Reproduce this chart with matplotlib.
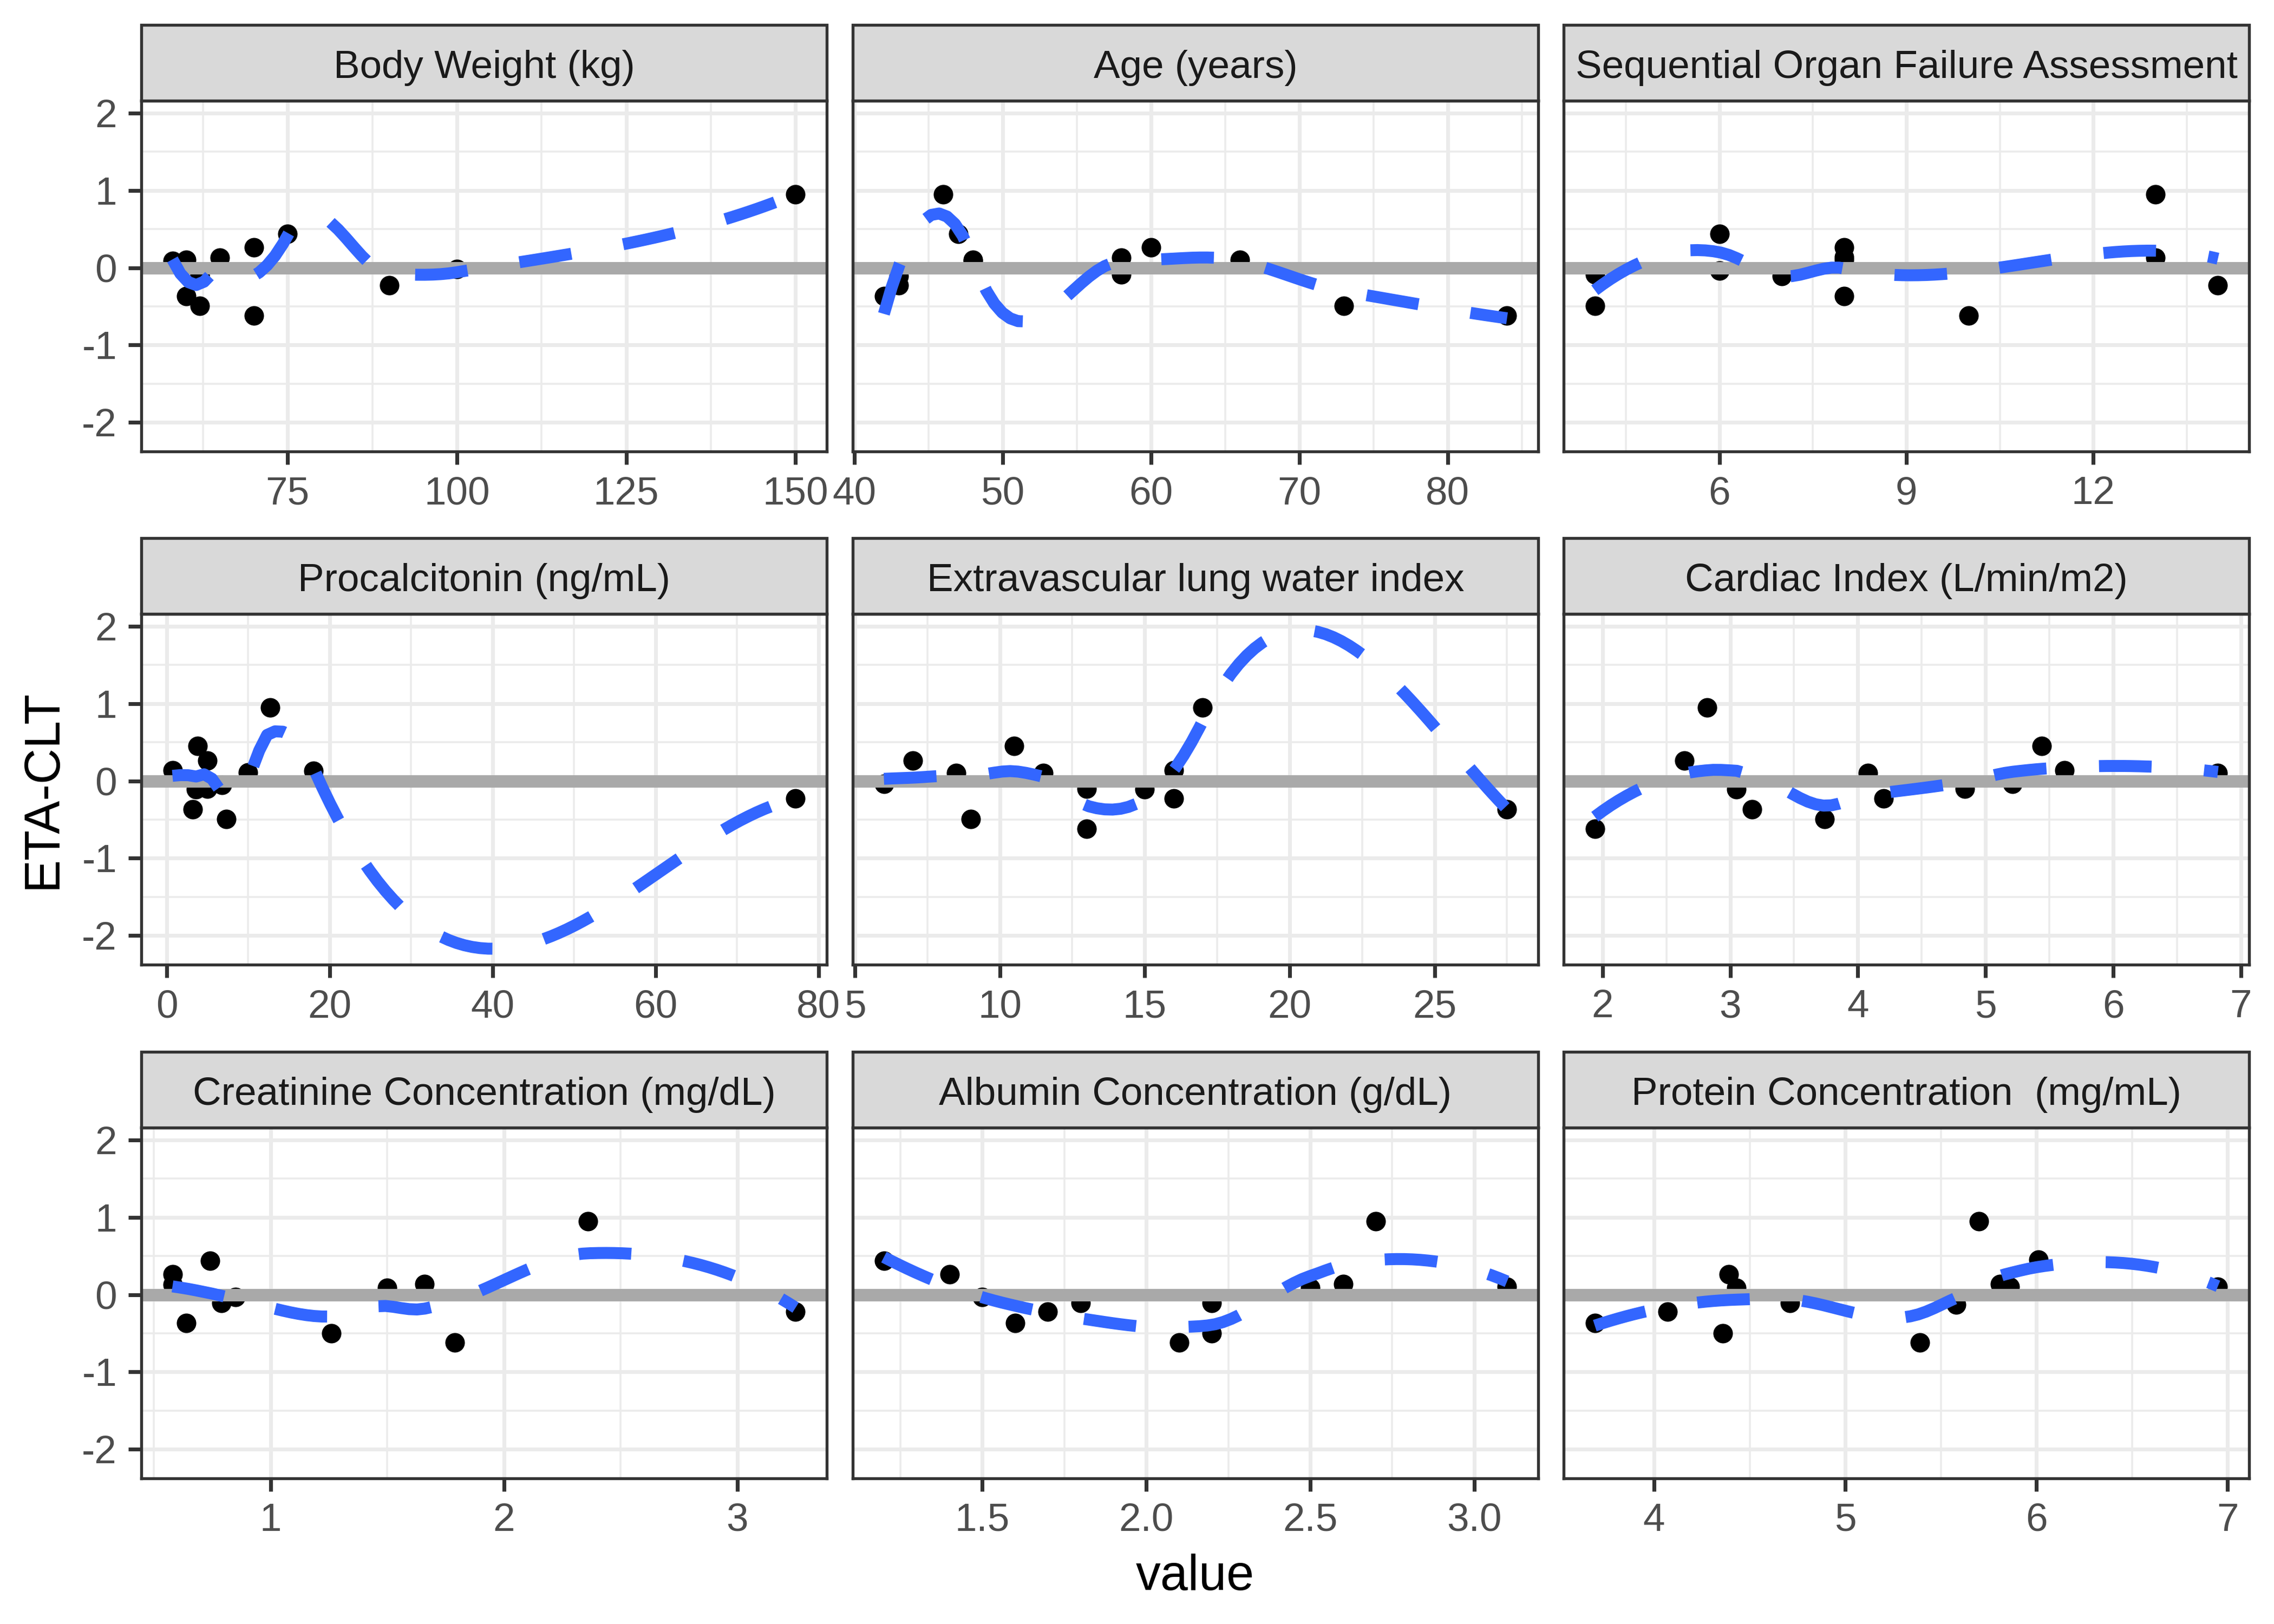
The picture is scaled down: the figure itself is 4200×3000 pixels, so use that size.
import numpy as np
import matplotlib
matplotlib.use("Agg")
import matplotlib.pyplot as plt
from matplotlib.patches import Rectangle

plt.rcParams['font.family'] = ['Liberation Sans', 'DejaVu Sans']
plt.rcParams['axes.unicode_minus'] = False

# ---------------- data ----------------
panel_titles = ["Body Weight (kg)", "Age (years)", "Sequential Organ Failure Assessment",
                "Procalcitonin (ng/mL)", "Extravascular lung water index", "Cardiac Index (L/min/m2)",
                "Creatinine Concentration (mg/dL)", "Albumin Concentration (g/dL)",
                "Protein Concentration  (mg/mL)"]

bw_x = [58, 60, 62, 62, 60, 62, 65, 70, 70, 75, 90, 100, 150]
bw_eta = [0.09, 0.10, -0.09, -0.11, -0.37, -0.49, 0.13, 0.26, -0.62, 0.44, -0.23, -0.02, 0.95]

age_x = [42, 43, 43, 46, 47, 48, 48, 58, 58, 60, 66, 73, 84]
age_eta = [-0.37, -0.23, -0.11, 0.95, 0.44, 0.09, 0.10, 0.13, -0.09, 0.26, 0.10, -0.49, -0.62]

sofa_x = [4, 4, 6, 6, 7, 8, 8, 8, 8, 10, 13, 13, 14]
sofa_eta = [-0.09, -0.49, 0.44, -0.04, -0.11, 0.26, 0.14, 0.10, -0.37, -0.62, 0.95, 0.13, -0.23]

pct_x = [0.7, 3.8, 5.0, 3.6, 5.0, 3.2, 6.8, 7.3, 10.0, 12.7, 18.0, 77.2]
pct_eta = [0.14, 0.45, 0.26, -0.11, -0.10, -0.37, -0.05, -0.49, 0.11, 0.95, 0.13, -0.23]

evlwi_x = [6.0, 7.0, 8.5, 9.0, 10.5, 11.5, 13.0, 13.0, 15.0, 16.0, 16.0, 17.0, 27.5]
evlwi_eta = [-0.04, 0.26, 0.10, -0.49, 0.45, 0.10, -0.10, -0.62, -0.11, 0.14, -0.23, 0.95, -0.37]

ci_x = [1.94, 2.64, 2.82, 3.05, 3.17, 3.74, 4.08, 4.20, 4.84, 5.21, 5.44, 5.62, 6.82]
ci_eta = [-0.62, 0.26, 0.95, -0.11, -0.37, -0.49, 0.10, -0.23, -0.10, -0.04, 0.45, 0.14, 0.10]

creat_x = [0.58, 0.58, 0.64, 0.74, 0.79, 0.85, 1.26, 1.50, 1.66, 1.79, 2.36, 3.25]
creat_eta = [0.26, 0.13, -0.37, 0.44, -0.11, -0.03, -0.50, 0.09, 0.14, -0.62, 0.95, -0.22]

alb_x = [1.2, 1.4, 1.5, 1.6, 1.7, 1.8, 2.1, 2.2, 2.2, 2.5, 2.6, 2.7, 3.1]
alb_eta = [0.44, 0.26, -0.03, -0.37, -0.22, -0.11, -0.62, -0.11, -0.50, 0.09, 0.14, 0.95, 0.10]

prot_x = [3.69, 4.07, 4.39, 4.36, 4.43, 4.71, 5.39, 5.58, 5.70, 5.81, 5.86, 6.01, 6.95]
prot_eta = [-0.37, -0.22, 0.26, -0.50, 0.09, -0.11, -0.62, -0.13, 0.95, 0.14, 0.10, 0.45, 0.10]

bw_ticks = [75, 100, 125, 150]
age_ticks = [40, 50, 60, 70, 80]
sofa_ticks = [6, 9, 12]
pct_ticks = [0, 20, 40, 60, 80]
evlwi_ticks = [5, 10, 15, 20, 25]
ci_ticks = [2, 3, 4, 5, 6, 7]
creat_ticks = [1, 2, 3]
alb_ticks = [1.5, 2.0, 2.5, 3.0]
prot_ticks = [4, 5, 6, 7]
y_ticks = [-2, -1, 0, 1, 2]

panel_x = [bw_x, age_x, sofa_x, pct_x, evlwi_x, ci_x, creat_x, alb_x, prot_x]
panel_y = [bw_eta, age_eta, sofa_eta, pct_eta, evlwi_eta, ci_eta, creat_eta, alb_eta, prot_eta]
panel_ticks = [bw_ticks, age_ticks, sofa_ticks, pct_ticks, evlwi_ticks, ci_ticks,
               creat_ticks, alb_ticks, prot_ticks]
panel_fmt = ["{:.0f}"] * 7 + ["{:.1f}", "{:.0f}"]


# ---------------- loess (R style: degree 2, span 0.75, kd-tree interpolation) -------------
def local_fit(xs, ys, x0, span=0.75):
    n = len(xs)
    q = int(np.floor(n * span + 1e-5))
    d = np.abs(xs - x0)
    h = np.sort(d)[q - 1]
    u = d / h
    w = np.where(u < 1, (1 - u ** 3) ** 3, 0.0)
    X = np.column_stack([np.ones(n), xs - x0, (xs - x0) ** 2])
    sw = np.sqrt(w)
    coef, *_ = np.linalg.lstsq(X * sw[:, None], ys * sw, rcond=None)
    return coef[0], coef[1]


def kd_vertices(xs, span=0.75, cell=0.2):
    xsrt = np.sort(xs)
    n = len(xsrt)
    fc = int(np.floor(n * span * cell))
    lo, hi = xsrt[0], xsrt[-1]
    mu = 0.005 * max(hi - lo, 1e-10 * max(abs(lo), abs(hi)) + 1e-30)
    verts = {lo - mu, hi + mu}

    def build(l, u, vlo, vhi):
        if u - l + 1 <= fc:
            return
        m = (l + u) // 2
        off = 0
        while True:
            if (m + off) >= u or (m + off) < l:
                break
            if xsrt[m + off] == xsrt[m + off + 1]:
                off = -off
                if off >= 0:
                    off += 1
            else:
                m = m + off
                break
        s = xsrt[m]
        if s == vlo or s == vhi:
            return
        verts.add(s)
        build(l, m, vlo, s)
        build(m + 1, u, s, vhi)

    build(0, n - 1, lo - mu, hi + mu)
    return np.array(sorted(verts))


def loess_curve(x, y, npts=80):
    xs = np.asarray(x, float)
    ys = np.asarray(y, float)
    v = kd_vertices(xs)
    vals = np.array([local_fit(xs, ys, vv) for vv in v])
    grid = np.linspace(xs.min(), xs.max(), npts)
    out = []
    for z in grid:
        k = np.searchsorted(v, z) - 1
        k = min(max(k, 0), len(v) - 2)
        x0, x1 = v[k], v[k + 1]
        hh = x1 - x0
        t = (z - x0) / hh
        g0, d0 = vals[k]
        g1, d1 = vals[k + 1]
        phi0 = (1 - t) ** 2 * (1 + 2 * t)
        phi1 = t ** 2 * (3 - 2 * t)
        psi0 = t * (1 - t) ** 2
        psi1 = -t ** 2 * (1 - t)
        out.append(phi0 * g0 + phi1 * g1 + (psi0 * d0 + psi1 * d1) * hh)
    return grid, np.array(out)


curves = [loess_curve(x, y) for x, y in zip(panel_x, panel_y)]
all_y = np.concatenate([np.asarray(c[1]) for c in curves] + [np.asarray(y) for y in panel_y])
ymin, ymax = all_y.min(), all_y.max()
yr = ymax - ymin
ylim = (ymin - 0.05 * yr, ymax + 0.05 * yr)

# ---------------- figure ----------------
W, H = 4200, 3000
fig = plt.figure(figsize=(14, 10), dpi=300)

col_left = [261, 1575, 2888]
panel_w = 1266
row_top = [186, 1134, 2083]
panel_h = 648
strip_h = 140

dark = "#333333"
for i in range(9):
    r, c = divmod(i, 3)
    left = col_left[c] / W
    bottom = 1 - (row_top[r] + panel_h) / H
    ax = fig.add_axes([left, bottom, panel_w / W, panel_h / H])
    ax.set_facecolor("white")
    xs = np.asarray(panel_x[i], float)
    xr = xs.max() - xs.min()

    ticks = panel_ticks[i]
    step = ticks[1] - ticks[0]
    minors = [ticks[0] - step / 2] + [t + step / 2 for t in ticks]
    ax.set_xticks(ticks)
    ax.set_xticklabels([panel_fmt[i].format(t) for t in ticks])
    ax.set_xticks(minors, minor=True)
    ax.set_yticks(y_ticks)
    ax.set_yticks([-2.5, -1.5, -0.5, 0.5, 1.5, 2.5], minor=True)
    if c == 0:
        ax.set_yticklabels([str(t) for t in y_ticks])
    else:
        ax.set_yticklabels([])
    ax.set_xlim(xs.min() - 0.05 * xr, xs.max() + 0.05 * xr)
    ax.set_ylim(*ylim)

    ax.grid(which="major", color="#EBEBEB", lw=1.7, zorder=0)
    ax.grid(which="minor", color="#EBEBEB", lw=0.85, zorder=0)
    ax.set_axisbelow(True)
    ax.tick_params(axis="both", which="major", length=5.8, width=1.7, color=dark,
                   labelsize=17.5, labelcolor="#4D4D4D", pad=5)
    ax.tick_params(axis="both", which="minor", length=0)
    if c != 0:
        ax.tick_params(axis="y", which="major", length=0)
    for sp in ax.spines.values():
        sp.set_color(dark)
        sp.set_linewidth(1.3)
        sp.set_zorder(10)

    ax.scatter(panel_x[i], panel_y[i], s=75, color="black", linewidths=0, zorder=3)
    ax.axhline(0, color="#A9A9A9", lw=5.5, zorder=4)
    gx, gy = curves[i]
    ax.plot(gx, gy, color="#3366FF", lw=5.3, linestyle=(0, (4.4, 4.4)),
            dash_capstyle="butt", solid_capstyle="butt", zorder=5)

    # strip
    sb = 1 - row_top[r] / H
    rect = Rectangle((left, sb), panel_w / W, strip_h / H, transform=fig.transFigure,
                     facecolor="#D9D9D9", edgecolor=dark, linewidth=1.3, zorder=1)
    fig.patches.append(rect)
    fig.text(left + panel_w / W / 2, sb + 0.30 * strip_h / H, panel_titles[i],
             ha="center", va="baseline", fontsize=17.5, color="#1A1A1A")

fig.text(80 / W, 1 - 1458 / H, "ETA-CLT", rotation=90, ha="center", va="center",
         fontsize=22, color="black")
fig.text(2207 / W, 1 - 2937 / H, "value", ha="center", va="baseline",
         fontsize=22, color="black")

fig.savefig("out.png", dpi=300, facecolor="white")
